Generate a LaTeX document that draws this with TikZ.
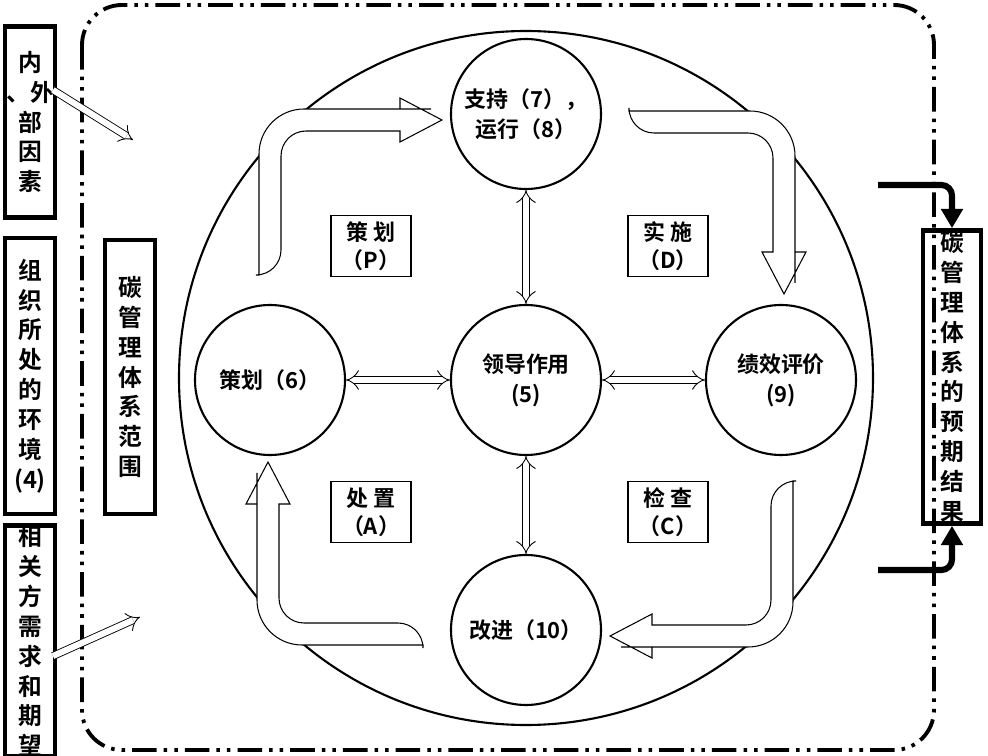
\documentclass[tikz,border=0pt]{standalone}
\usepackage{fontspec}
\setmainfont{Liberation Serif}
\newfontfamily\cjk{Noto Sans CJK SC}[BoldFont=* Bold]
\usetikzlibrary{arrows.meta}
\newcommand\tightls{\lineskiplimit=-20pt\relax\lineskip=0pt\relax}
\begin{document}
\begin{tikzpicture}[x=0.02cm,y=-0.02cm,
  vbox/.style={draw,line width=2.6pt,align=center,inner sep=0pt,font=\cjk\bfseries\fontsize{13.5}{17}\selectfont\tightls},
  circ/.style={draw,circle,line width=1.2pt,minimum size=150*0.02cm,inner sep=0pt,align=center,font=\cjk\bfseries\fontsize{12.5}{17}\selectfont\tightls},
  lbox/.style={draw,line width=0.6pt,align=center,minimum width=80*0.02cm,minimum height=61*0.02cm,inner sep=0pt,font=\cjk\bfseries\fontsize{12.5}{16}\selectfont\tightls},
  harr/.style={double,double distance=3.5pt,line width=0.5pt,{Implies}-{Implies}},
  sarr/.style={double,double distance=3.5pt,line width=0.5pt,-{Implies}},
  barr/.style={line width=3.5pt,rounded corners=6pt,-{Triangle[length=11pt,width=12pt]}},
  bigarr/.style={draw,line width=0.6pt,fill=white}]
\useasboundingbox (0,0) rectangle (988,756);
\draw[line width=2.2pt,rounded corners=40*0.02cm,dash pattern=on 14pt off 4pt on 2pt off 4pt on 2pt off 4pt] (82,5) rectangle (934,750);
\draw[line width=1.2pt] (526,378) circle[radius=347*0.02cm];
\node[circ] (top) at (526,114) {支持（7），\\运行（8）};
\node[circ] (mid) at (526,380) {领导作用\\(5)};
\node[circ] (lft) at (270,380) {策划（6）};
\node[circ] (rgt) at (781,380) {绩效评价\\(9)};
\node[circ] (bot) at (526,630) {改进（10）};
\foreach \r in {0,-90,-180,-270}{
\begin{scope}[shift={(526,378)},rotate=\r]
\draw[bigarr] (-267,-103) [rounded corners=45*0.02cm] -- (-267,-269) -- (-140,-269) [sharp corners] -- (-126,-269) -- (-126,-280) -- (-84,-258) -- (-126,-236) -- (-126,-247) [rounded corners=25*0.02cm] -- (-245,-247) -- (-245,-103) [sharp corners] -- cycle;
\end{scope}}
\draw[harr] (top.south) -- (mid.north);
\draw[harr] (mid.south) -- (bot.north);
\draw[harr] (lft.east) -- (mid.west);
\draw[harr] (mid.east) -- (rgt.west);
\node[lbox] (p) at (371,246) {策 划\\（P）};
\node[lbox] (d) at (668,246) {实 施\\（D）};
\node[lbox] (a) at (371,512) {处 置\\（A）};
\node[lbox] (c) at (668,512) {检 查\\（C）};
\node[vbox,minimum width=50*0.02cm,minimum height=191*0.02cm] (b1) at (30,122) {内\\、外\\部\\因\\素};
\node[vbox,minimum width=50*0.02cm,minimum height=276*0.02cm] (b2) at (30,376) {组\\织\\所\\处\\的\\环\\境\\(4)};
\node[vbox,minimum width=50*0.02cm,minimum height=210*0.02cm] (b3) at (30,641) {相\\关\\方\\需\\求\\和\\期\\望};
\node[vbox,minimum width=50*0.02cm,minimum height=274*0.02cm] (b4) at (130,377) {碳\\管\\理\\体\\系\\范\\围};
\node[vbox,minimum width=58*0.02cm,minimum height=293*0.02cm] (b5) at (952,377) {碳\\管\\理\\体\\系\\的\\预\\期\\结\\果};
\coordinate (e1) at (133,140);
\coordinate (e2) at (140,617);
\draw[sarr] (53,90) -- (e1);
\draw[sarr] (53,656) -- (e2);
\coordinate (s1) at (878,185);
\coordinate (s2) at (878,570);
\draw[barr] (s1) -| (b5.north);
\draw[barr] (s2) -| (b5.south);
\end{tikzpicture}
\end{document}
